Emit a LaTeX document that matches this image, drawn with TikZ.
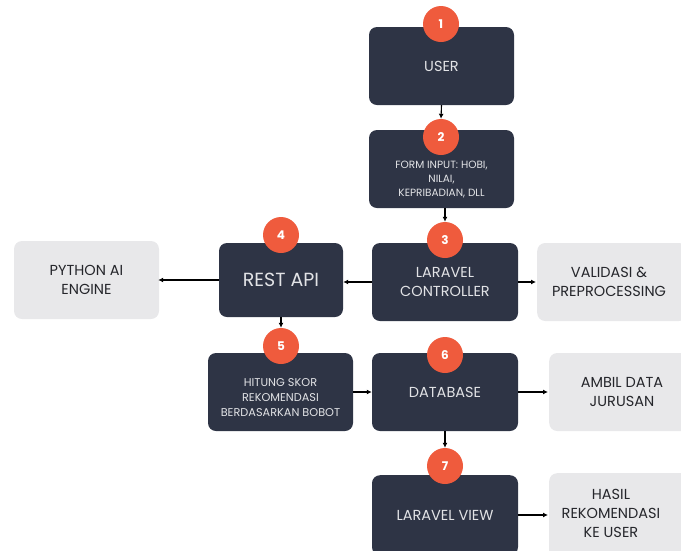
\documentclass[tikz,border=0pt]{standalone}
\usepackage{fontspec}
\setmainfont{Poppins}
\usetikzlibrary{arrows.meta}
\definecolor{navy}{HTML}{2E3445}
\definecolor{orng}{HTML}{EF5B3D}
\definecolor{lgray}{HTML}{E8E8EA}
\definecolor{ltext}{HTML}{E2E3E6}
\definecolor{dtext}{HTML}{25262B}
\tikzset{
  darkbox/.style={fill=navy, rounded corners=8pt, inner sep=0pt, text=ltext, align=center, font=\fontsize{14.5}{19}\selectfont},
  greybox/.style={fill=lgray, rounded corners=8pt, inner sep=0pt, text=dtext, align=center, font=\fontsize{14.5}{19}\selectfont},
  numc/.style={circle, fill=orng, minimum size=36pt, inner sep=0pt, text=white, font=\fontsize{12}{12}\selectfont\bfseries},
  arr/.style={-{Latex[length=5pt,width=5pt]}, line width=1.1pt, black},
  txt/.style={text=ltext, align=center, inner sep=0pt},
}
\begin{document}
\begin{tikzpicture}[x=1pt,y=-1pt]
\useasboundingbox (0,0) rectangle (681,550);
% boxes
\node[darkbox, minimum width=145pt, minimum height=78pt] (user) at (441.5,66) {USER};
\node[darkbox, minimum width=145pt, minimum height=78pt] (form) at (441.5,169) {};
\node[txt, font=\fontsize{10.5}{14}\selectfont] (formt) at (441.5,180) {FORM INPUT: HOBI,\\NILAI,\\KEPRIBADIAN, DLL};
\node[darkbox, minimum width=146pt, minimum height=78pt] (ctrl) at (445,282) {LARAVEL\\CONTROLLER};
\node[greybox, minimum width=150pt, minimum height=78pt, anchor=west] (valid) at (537,282) {};
\node[text=dtext, align=center, inner sep=0pt, font=\fontsize{14.5}{19}\selectfont] (validt) at (609,282) {VALIDASI \&\\PREPROCESSING};
\node[darkbox, minimum width=124pt, minimum height=74pt, font=\fontsize{19}{22}\selectfont] (rest) at (281,280) {REST API};
\node[greybox, minimum width=145pt, minimum height=78pt] (py) at (86.5,280) {PYTHON AI\\ENGINE};
\node[darkbox, minimum width=145pt, minimum height=78pt] (hit) at (280.5,392) {};
\node[txt, font=\fontsize{11.3}{15}\selectfont] (hitt) at (280.5,398) {HITUNG SKOR\\REKOMENDASI\\BERDASARKAN BOBOT};
\node[darkbox, minimum width=146pt, minimum height=78pt] (db) at (445,392) {DATABASE};
\node[greybox, minimum width=150pt, minimum height=78pt, anchor=west] (amb) at (549,392) {};
\node[text=dtext, align=center, inner sep=0pt, font=\fontsize{14.5}{19}\selectfont] (ambt) at (622,392) {AMBIL DATA\\JURUSAN};
\node[darkbox, minimum width=146pt, minimum height=80pt, anchor=north] (view) at (445,475) {};
\node[txt, font=\fontsize{14.5}{19}\selectfont] (viewt) at (445,515) {LARAVEL VIEW};
\node[greybox, minimum width=150pt, minimum height=90pt, anchor=north west] (has) at (549,473) {};
\node[text=dtext, align=center, inner sep=0pt, font=\fontsize{14.5}{19}\selectfont] (hast) at (611,513) {HASIL\\REKOMENDASI\\KE USER};
% circles
\node[numc] (c1) at (441,24) {1};
\node[numc] (c2) at (441,137) {2};
\node[numc] (c3) at (445,240) {3};
\node[numc] (c4) at (281,235) {4};
\node[numc] (c5) at (281,346) {5};
\node[numc] (c6) at (445,355) {6};
\node[numc] (c7) at (445,466) {7};
% arrows
\draw[arr] (user.south) -- (c2.north);
\draw[arr] (c3.north |- form.south) -- (c3.north);
\draw[arr] (ctrl.west) -- (rest.east |- ctrl.west);
\draw[arr] (ctrl.east) -- ([xshift=-1pt]valid.west);
\draw[arr] (rest.west) -- ([xshift=-1pt]py.east);
\draw[arr] (rest.south) -- (c5.north);
\draw[arr] (hit.east) -- (db.west);
\draw[arr] (db.east) -- ([xshift=-1pt]amb.west);
\draw[arr] (db.south) -- (c7.north);
\draw[arr] (view.east |- viewt) -- ([xshift=-1pt]has.west |- viewt);
\end{tikzpicture}
\end{document}
